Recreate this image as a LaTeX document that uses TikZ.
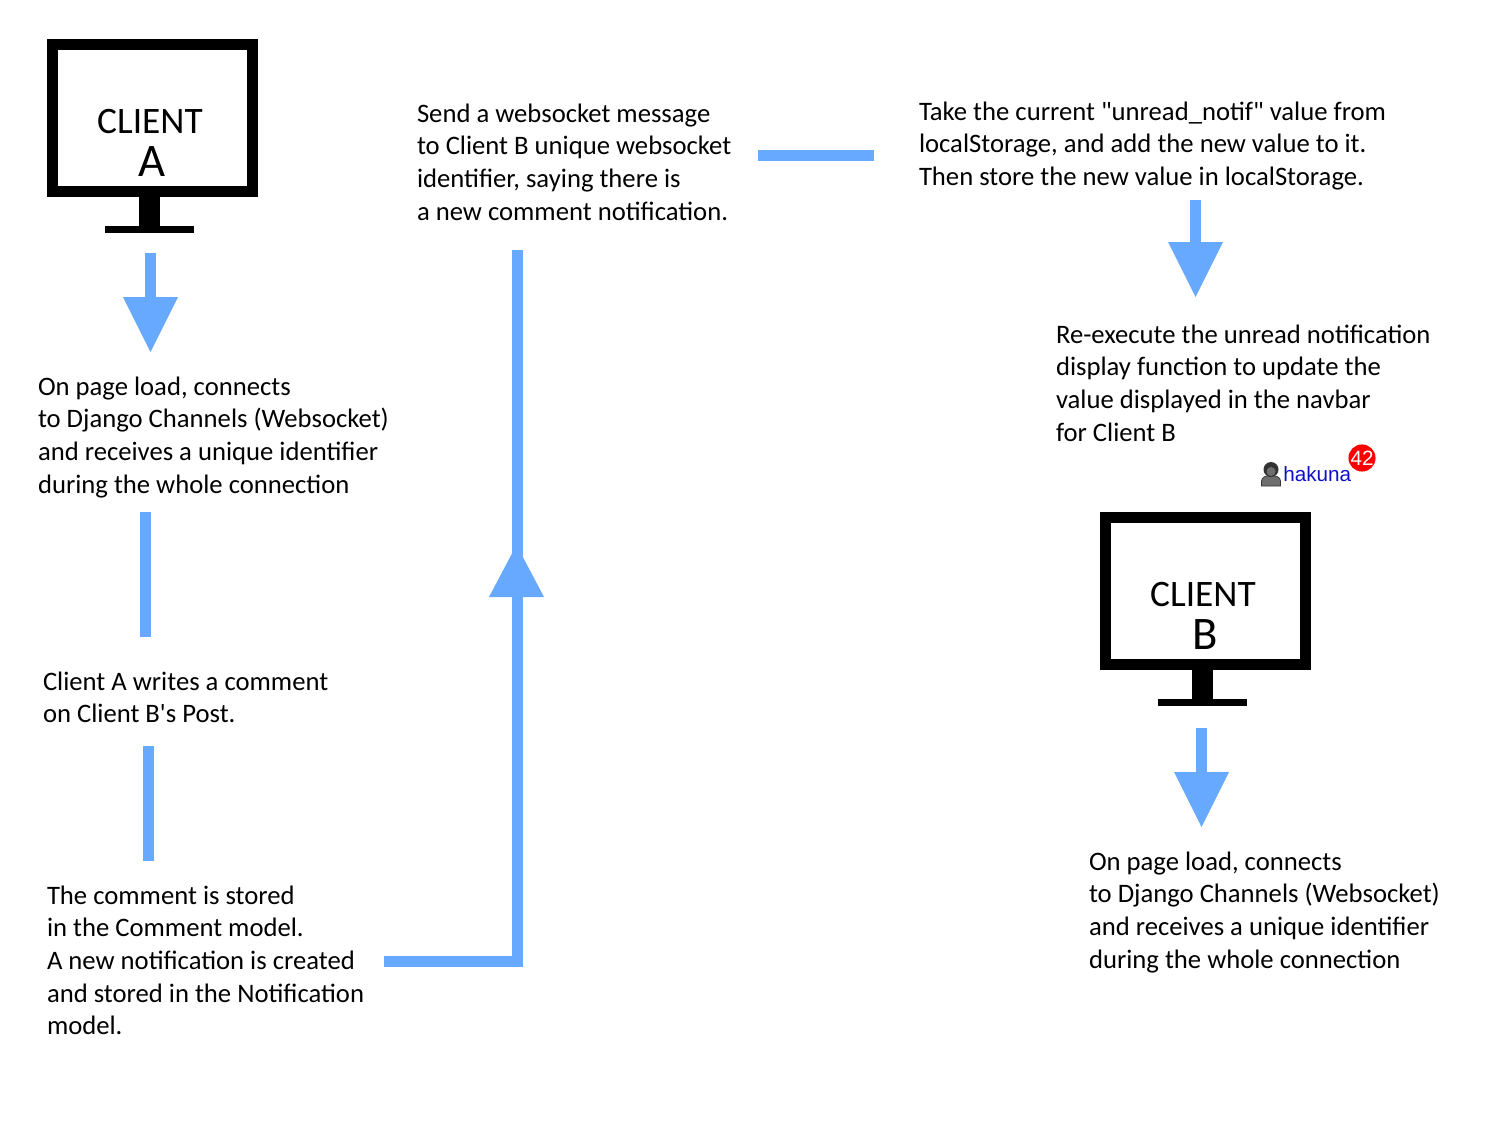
\documentclass[tikz,border=0pt]{standalone}
\usepackage{fontspec}
\setmainfont{Carlito}[Ligatures=TeXOff]
\newfontfamily\arialfont{Liberation Sans}
\usetikzlibrary{arrows.meta}
\definecolor{flow}{HTML}{66A9FF}
\definecolor{linkblue}{HTML}{1010C8}
\definecolor{avatar}{HTML}{6E6E6E}
\definecolor{avatardark}{HTML}{333333}
\newcommand{\textlines}[1]{\begin{tabular}[t]{@{}l@{}}#1\end{tabular}}
\tikzset{
  x=0.75pt,y=-0.75pt,
  txt/.style={anchor=base west,inner sep=0pt,outer sep=0pt,font=\fontsize{20}{24.5}\selectfont},
  seg/.style={draw=flow,line width=8.25pt},
  conn/.style={seg,-{Triangle[length=41.25pt,width=41.25pt,line width=0pt,sep=0pt]},shorten >=0pt},
  screen/.style={draw=black,line width=8.25pt,fill=white,minimum width=150pt,minimum height=110.25pt,inner sep=0pt,outer sep=0pt},
  bigone/.style={inner sep=0pt,outer sep=0pt,anchor=base,font=\fontsize{28}{30}\selectfont},
  bigtwo/.style={inner sep=0pt,outer sep=0pt,anchor=base,font=\fontsize{35}{36}\selectfont},
  stand/.style={fill=black,draw=none},
}
\begin{document}
\begin{tikzpicture}
\useasboundingbox (0,0) rectangle (1500,1125);
% client A monitor
\node[screen] (clientA) at (152.5,118) {};
\fill[stand] (139,197) rectangle (160,228);
\fill[stand] (105,226) rectangle (194,233);
\node[bigone] (clientAa) at (150,133) {CLIENT};
\node[bigtwo] (clientAb) at (152,176) {A};
% client B monitor
\node[screen] (clientB) at (1205.5,591) {};
\fill[stand] (1192,670) rectangle (1213,701);
\fill[stand] (1158,699) rectangle (1247,706);
\node[bigone] (clientBa) at (1203,606) {CLIENT};
\node[bigtwo] (clientBb) at (1205,649) {B};
% texts
\node[txt] (loadA) at (38,395) {\textlines{On page load, connects\\to Django Channels (Websocket)\\and receives a unique identifier\\during the whole connection}};
\node[txt] (writes) at (43,690) {\textlines{Client A writes a comment\\on Client B's Post.}};
\node[txt] (stored) at (47,904) {\textlines{The comment is stored\\in the Comment model.\\A new notification is created\\and stored in the Notification\\model.}};
\node[txt] (send) at (417,122) {\textlines{Send a websocket message\\to Client B unique websocket\\identifier, saying there is\\a new comment notification.}};
\node[txt] (take) at (919,120) {\textlines{Take the current "unread\_notif" value from\\localStorage, and add the new value to it.\\Then store the new value in localStorage.}};
\node[txt] (reexec) at (1056,343) {\textlines{Re-execute the unread notification\\display function to update the\\value displayed in the navbar\\for Client B}};
\node[txt] (loadB) at (1089,870) {\textlines{On page load, connects\\to Django Channels (Websocket)\\and receives a unique identifier\\during the whole connection}};
% navbar snippet
\filldraw[fill=avatar,draw=avatardark,line width=0.5pt] (1261.5,486) -- (1261.5,481) .. controls (1261.5,477) and (1266,475.5) .. (1271,475.5) .. controls (1276,475.5) and (1280.5,477) .. (1280.5,481) -- (1280.5,486) -- cycle;
\fill[avatardark] (1271,469.5) circle[radius=7.5];
\fill[avatar] (1271,471.5) circle[radius=4.5];
\node[inner sep=0pt,anchor=base west,text=linkblue,font=\arialfont\fontsize{15.5}{18}\selectfont] (hakuna) at (1283,481) {hakuna};
\node[circle,fill=red,minimum size=19.5pt,inner sep=0pt,text=white,font=\arialfont\fontsize{15.5}{18}\selectfont] (badge) at (1362,458) {42};
% connector end points
\coordinate (a1) at (150.5,253);
\coordinate (a2) at (150.5,352);
\coordinate (b1) at (145.5,512);
\coordinate (b2) at (145.5,637);
\coordinate (c1) at (148.5,746);
\coordinate (c2) at (148.5,861);
\coordinate (d1) at (384,961);
\coordinate (d2) at (517.5,961);
\coordinate (d3) at (517.5,250);
\coordinate (e1) at (758,155.5);
\coordinate (e2) at (874,155.5);
\coordinate (f1) at (1195.5,200);
\coordinate (f2) at (1195.5,297);
\coordinate (g1) at (1201.5,728);
\coordinate (g2) at (1201.5,827);
\coordinate (mL) at (489,597);
\coordinate (mR) at (544,597);
\coordinate (mT) at (516.5,545);
% connectors
\draw[conn] (a1) -- (a2);
\draw[seg] (b1) -- (b2);
\draw[seg] (c1) -- (c2);
\draw[seg,miter limit=4] (d1) -- (d2) -- (d3);
\fill[flow] (mL) -- (mR) -- (mT) -- cycle;
\draw[seg] (e1) -- (e2);
\draw[conn] (f1) -- (f2);
\draw[conn] (g1) -- (g2);
\end{tikzpicture}
\end{document}
